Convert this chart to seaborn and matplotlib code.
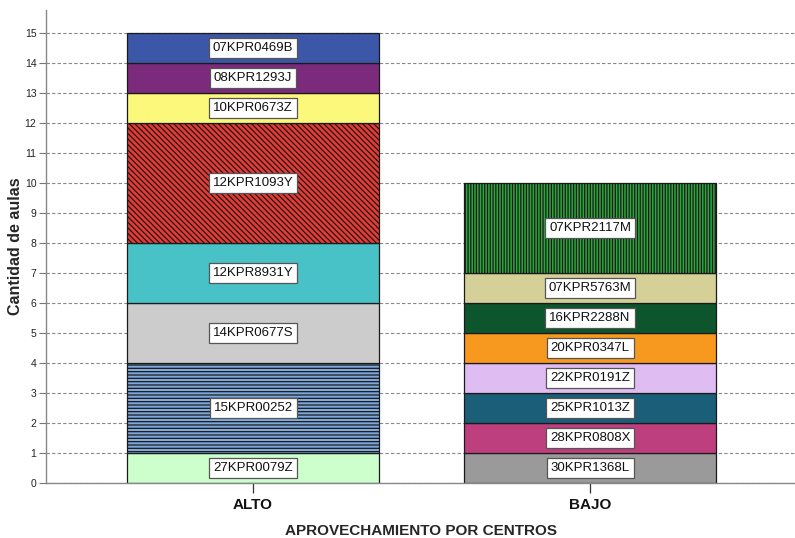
import matplotlib
matplotlib.use("Agg")
import matplotlib.pyplot as plt
import seaborn as sns
import pandas as pd

# ==================================
# DATA
# ==================================
ORDEN = ["ALTO", "BAJO"]

GRUPOS = ["ALTO"] * 8 + ["BAJO"] * 8

CENTROS = [
    "27KPR0079Z", "15KPR00252", "14KPR0677S", "12KPR8931Y",
    "12KPR1093Y", "10KPR0673Z", "08KPR1293J", "07KPR0469B",
    "30KPR1368L", "28KPR0808X", "25KPR1013Z", "22KPR0191Z",
    "20KPR0347L", "16KPR2288N", "07KPR5763M", "07KPR2117M",
]

AULAS = [1, 3, 2, 2, 4, 1, 1, 1,
         1, 1, 1, 1, 1, 1, 1, 3]

COLORES = [
    "#ccffcc", "#7ea8dc", "#cccccc", "#48c2c6",
    "#e63a35", "#fbf87c", "#7b2a7c", "#3c56a8",
    "#9a9a9a", "#bd3f7d", "#1b5e78", "#dfbdf2",
    "#f7991f", "#0d552c", "#d5cf98", "#2ba83c",
]

TRAMAS = [
    None, "-----", None, None,
    "\\\\\\\\\\\\", None, None, None,
    None, None, None, None,
    None, None, None, "||||||",
]

YTICKS = list(range(0, 16))

df = pd.DataFrame({
    "grupo": GRUPOS,
    "centro": CENTROS,
    "aulas": AULAS,
    "color": COLORES,
    "trama": TRAMAS,
})
df["base"] = df.groupby("grupo")["aulas"].cumsum() - df["aulas"]

# ==================================
# STYLE
# ==================================
sns.set_theme(style="white")
plt.rcParams["font.family"] = ["Liberation Sans", "DejaVu Sans"]
plt.rcParams["hatch.linewidth"] = 0.9
plt.rcParams["hatch.color"] = "black"

fig = plt.figure(figsize=(7.95, 5.38), dpi=100)
ax = fig.add_axes([0.058, 0.102, 0.942, 0.879])

# ==================================
# BARS
# ==================================
for _, fila in df.iterrows():
    sns.barplot(
        x=[fila["grupo"]],
        y=[fila["aulas"]],
        order=ORDEN,
        bottom=fila["base"],
        color=fila["color"],
        saturation=1,
        width=0.75,
        edgecolor="#1a1a1a",
        linewidth=0.9,
        hatch=fila["trama"],
        ax=ax,
        zorder=2,
    )

for _, fila in df.iterrows():
    ax.text(
        ORDEN.index(fila["grupo"]),
        fila["base"] + fila["aulas"] / 2,
        fila["centro"],
        ha="center",
        va="center",
        fontsize=9.5,
        color="#111111",
        zorder=5,
        bbox=dict(boxstyle="square,pad=0.3", facecolor="white",
                  edgecolor="#555555", linewidth=0.9),
    )

# ==================================
# AXES
# ==================================
ax.set_xlim(-0.614, 1.608)
ax.set_ylim(0, 15.77)
ax.set_yticks(YTICKS)
ax.set_yticklabels([str(v) for v in YTICKS], fontsize=7.5, color="#222222")
ax.set_xticks(range(len(ORDEN)))
ax.set_xticklabels(ORDEN, fontsize=11, fontweight="bold", color="#111111")

ax.yaxis.grid(True, linestyle=(0, (3, 2)), color="#888888", linewidth=0.8, zorder=0)
ax.xaxis.grid(False)
ax.set_axisbelow(True)

ax.tick_params(axis="y", direction="out", length=5, width=0.8, color="#777777", pad=2, left=True)
ax.tick_params(axis="x", direction="out", length=7.5, width=0.9, color="#333333", pad=3.5, bottom=True)

for lado in ["top", "right"]:
    ax.spines[lado].set_visible(False)
for lado in ["left", "bottom"]:
    ax.spines[lado].set_color("#888888")
    ax.spines[lado].set_linewidth(1.0)

ax.set_ylabel("Cantidad de aulas", fontsize=11.5, fontweight="bold", labelpad=1)
ax.set_xlabel("APROVECHAMIENTO POR CENTROS", fontsize=11, fontweight="bold", labelpad=8)

fig.savefig("out.png", dpi=100)
